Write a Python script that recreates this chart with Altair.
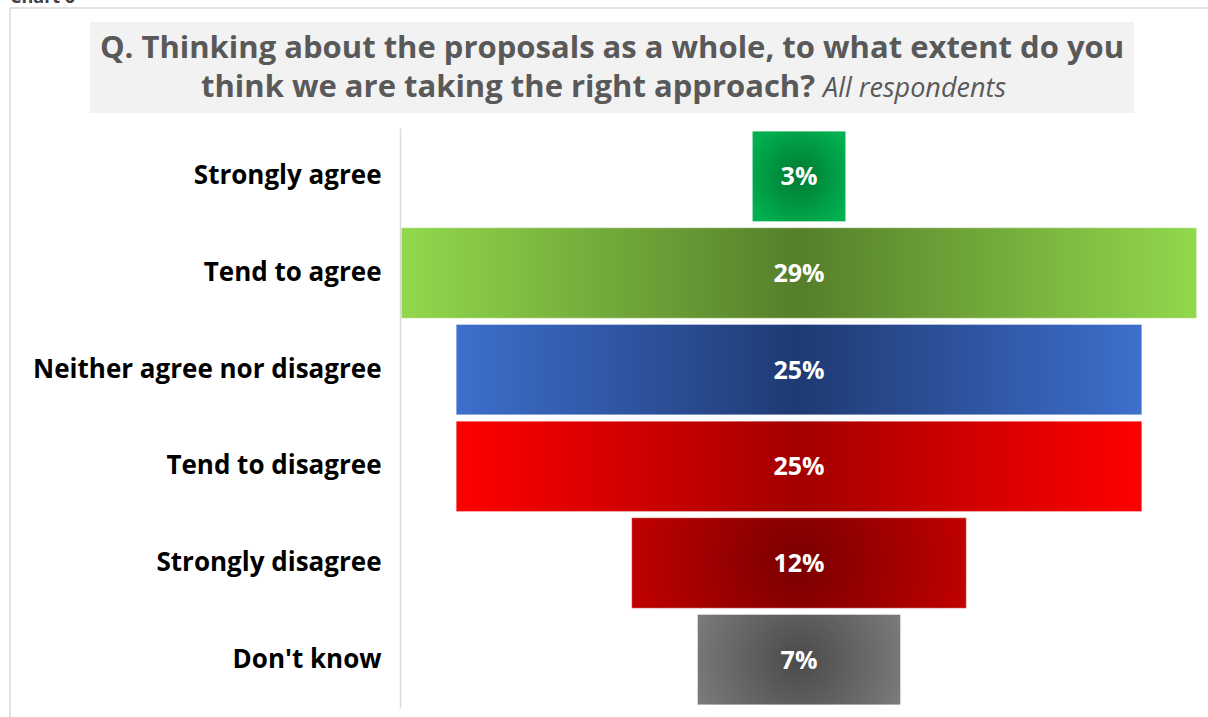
import altair as alt
import pandas as pd

categories = ["Strongly agree", "Tend to agree", "Neither agree nor disagree",
              "Tend to disagree", "Strongly disagree", "Don't know"]
values = [3.4, 29.0, 25.0, 25.0, 12.2, 7.4]
labels = ["3%", "29%", "25%", "25%", "12%", "7%"]
edge_colors = ["#00b04f", "#92d84c", "#3d6fcc", "#ff0000", "#cc0000", "#808080"]
center_colors = ["#007a33", "#557f2a", "#1f3a73", "#a30000", "#7a0000", "#4a4a4a"]
gradient_kind = ["radial", "linear", "linear", "linear", "radial", "radial"]

title_line1 = "Q. Thinking about the proposals as a whole, to what extent do you"
title_line2 = "think we are taking the right approach?"
title_note = "All respondents"

FONT = "Open Sans"

df = pd.DataFrame({"category": categories, "value": values, "label": labels})

y_enc = alt.Y("category:N", sort=categories,
              scale=alt.Scale(paddingInner=0.065, paddingOuter=0.0325),
              axis=alt.Axis(title=None, ticks=False, labelFont=FONT, labelFontSize=26,
                            labelFontWeight="bold", labelColor="#000000", labelPadding=19,
                            labelLimit=400, domainColor="#d9d9d9", domainWidth=1.5))
x_scale = alt.Scale(domain=[-14.55, 14.55])

base = alt.Chart(df).transform_calculate(lo="-datum.value/2", hi="datum.value/2")

layers = []
for cat, e, c, kind in zip(categories, edge_colors, center_colors, gradient_kind):
    if kind == "linear":
        grad = alt.LinearGradient(gradient="linear", x1=0, x2=1, y1=0, y2=0,
                                  stops=[alt.GradientStop(offset=0, color=e),
                                         alt.GradientStop(offset=0.5, color=c),
                                         alt.GradientStop(offset=1, color=e)])
    else:
        grad = alt.RadialGradient(gradient="radial", x1=0.5, y1=0.5, r1=0,
                                  x2=0.5, y2=0.5, r2=0.6,
                                  stops=[alt.GradientStop(offset=0, color=c),
                                         alt.GradientStop(offset=1, color=e)])
    layers.append(
        base.transform_filter(alt.datum.category == cat)
        .mark_bar(fill=grad, stroke="#ffffff", strokeOpacity=0.35, strokeWidth=1)
        .encode(x=alt.X("lo:Q", scale=x_scale, axis=None), x2="hi:Q", y=y_enc)
    )

text = base.mark_text(font=FONT, fontSize=25, fontWeight="bold", color="#ffffff", dy=1).encode(
    x=alt.datum(0, scale=x_scale), y=y_enc, text="label:N")

deco = alt.Chart(alt.Data(values=[{}]))
title_box = deco.mark_rect(color="#f2f2f2").encode(
    x=alt.value(-310), x2=alt.value(734), y=alt.value(-106), y2=alt.value(-15))
frame_top = deco.mark_rule(color="#d9d9d9", strokeWidth=1.5).encode(
    x=alt.value(-390), x2=alt.value(808), y=alt.value(-120))
frame_left = deco.mark_rule(color="#d9d9d9", strokeWidth=1.5).encode(
    x=alt.value(-390), y=alt.value(-120), y2=alt.value(589))
chart_tag = deco.mark_text(text="Chart 6", font=FONT, fontSize=18, fontWeight="bold",
                           color="#404040", align="left", baseline="alphabetic").encode(
    x=alt.value(-390), y=alt.value(-125))
t1 = deco.mark_text(text=title_line1, font=FONT, fontSize=31, fontWeight="bold",
                    color="#595959", align="center", baseline="alphabetic").encode(
    x=alt.value(212), y=alt.value(-70))
t2 = deco.mark_text(text=title_line2, font=FONT, fontSize=31, fontWeight="bold",
                    color="#595959", align="right", baseline="alphabetic").encode(
    x=alt.value(415), y=alt.value(-31))
t3 = deco.mark_text(text=title_note, font=FONT, fontSize=27, fontStyle="italic",
                    color="#595959", align="left", baseline="alphabetic").encode(
    x=alt.value(423), y=alt.value(-31))

chart = alt.layer(title_box, frame_top, frame_left, chart_tag, t1, t2, t3, *layers, text).properties(
    width=798, height=580,
    padding={"left": 400, "top": 128, "right": 10, "bottom": 9},
    autosize=alt.AutoSizeParams(type="none"),
    background="#ffffff",
).configure_view(stroke=None)

chart.save("out.html", embed_options={"renderer": "svg", "actions": False})
